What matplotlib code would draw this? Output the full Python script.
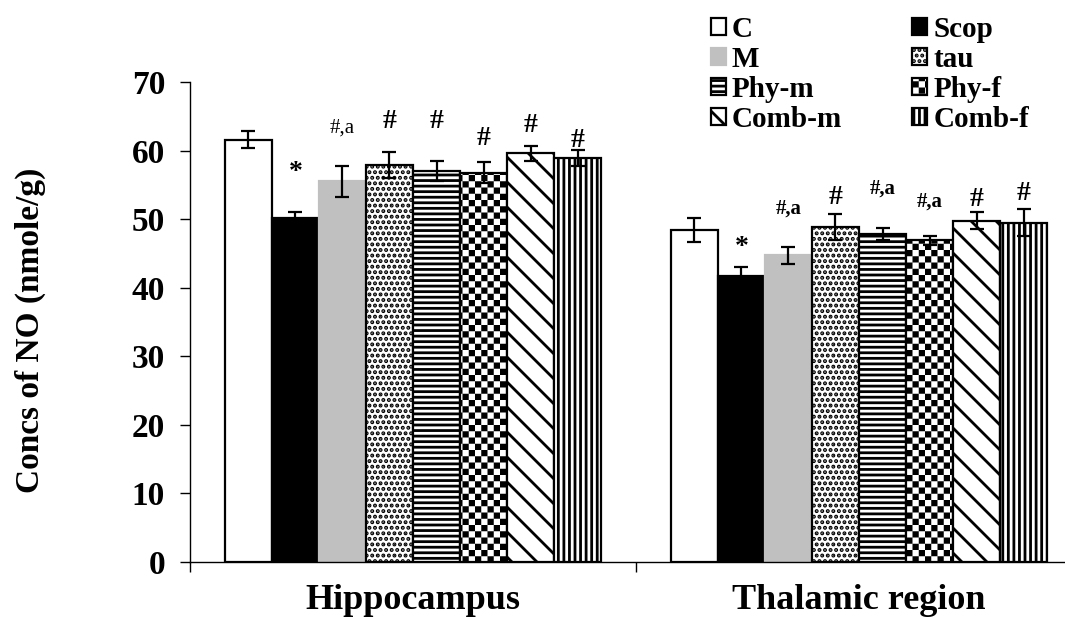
"""
Concentración de NO en hipocampo y región talámica (barras con patrones)
"""

import numpy as np
import matplotlib
matplotlib.use('Agg')
import matplotlib.pyplot as plt
import matplotlib.hatch as mhatch
from matplotlib.path import Path

# ============================================
# DATOS
# ============================================

regions = ['Hippocampus', 'Thalamic region']
groups = ['C', 'Scop', 'M', 'tau', 'Phy-m', 'Phy-f', 'Comb-m', 'Comb-f']

hippo_vals = [61.6, 50.2, 55.5, 57.9, 57.0, 56.8, 59.6, 58.9]
hippo_err = [1.2, 0.9, 2.2, 1.9, 1.5, 1.5, 1.1, 1.2]
thal_vals = [48.4, 41.7, 44.7, 48.9, 47.8, 46.9, 49.8, 49.5]
thal_err = [1.8, 1.3, 1.2, 1.9, 0.9, 0.7, 1.2, 2.0]

# marcas de significancia y su altura
hippo_sig = ['', '*', '#,a', '#', '#', '#', '#', '#']
hippo_sig_y = [0, 56.8, 63.3, 64.2, 64.2, 61.8, 63.7, 61.5]
thal_sig = ['', '*', '#,a', '#', '#,a', '#,a', '#', '#']
thal_sig_y = [0, 45.9, 51.6, 53.1, 54.4, 52.5, 52.8, 53.8]

y_ticks = [0, 10, 20, 30, 40, 50, 60, 70]

# ============================================
# PATRONES PERSONALIZADOS (tablero y diagonal ancha)
# ============================================

HATCH_LW = 2.0
plt.rcParams['hatch.linewidth'] = HATCH_LW


class CheckerHatch(mhatch.HatchPatternBase):
    # tablero de ajedrez, usa el caracter 'O'
    def __init__(self, hatch, density):
        self.n = hatch.count('O') * 16
        self.num_vertices = (self.n * self.n // 2) * 5

    def set_vertices_and_codes(self, vertices, codes):
        s = 1.0 / self.n
        shrink = HATCH_LW / 72.0 / 2
        k = 0
        for i in range(self.n):
            for j in range(self.n):
                if (i + j) % 2:
                    continue
                x0, y0 = j * s + shrink, i * s + shrink
                x1, y1 = (j + 1) * s - shrink, (i + 1) * s - shrink
                vertices[k:k + 5] = [(x0, y0), (x1, y0), (x1, y1), (x0, y1), (x0, y0)]
                codes[k:k + 5] = [Path.MOVETO, Path.LINETO, Path.LINETO,
                                  Path.LINETO, Path.CLOSEPOLY]
                k += 5


class WideDiag(mhatch.SouthEastHatch):
    # diagonal '\' más espaciada, usa el caracter 'o'
    def __init__(self, hatch, density):
        self.num_lines = int(hatch.count('o') * 8)
        self.num_vertices = (self.num_lines + 1) * 2 if self.num_lines else 0


mhatch._hatch_types[mhatch._hatch_types.index(mhatch.LargeCircles)] = CheckerHatch
mhatch._hatch_types[mhatch._hatch_types.index(mhatch.SmallCircles)] = WideDiag

# estilos por grupo: (relleno, borde, patrón)
styles = [
    ('white', 'black', None),
    ('black', 'black', None),
    ('#c0c0c0', '#c0c0c0', None),
    ('white', 'black', '...'),
    ('white', 'black', '---'),
    ('white', 'black', 'O'),
    ('white', 'black', 'o'),
    ('white', 'black', '|||'),
]

# ============================================
# FIGURA
# ============================================

plt.rcParams['font.family'] = ['Liberation Serif', 'DejaVu Serif']
plt.rcParams['font.weight'] = 'bold'

fig = plt.figure(figsize=(10.65, 6.17), dpi=100)
ax = fig.add_axes([190 / 1065, 55 / 617, 892 / 1065, 480 / 617])

x = np.arange(len(regions))
w = 0.1054
vals = [hippo_vals, thal_vals]
errs = [hippo_err, thal_err]

handles = []
for i, g in enumerate(groups):
    fc, ec, hatch = styles[i]
    pos = x + (i - 3.5) * w
    heights = [v[i] for v in vals]
    e = [er[i] for er in errs]
    bars = ax.bar(pos, heights, w, color=fc, edgecolor=ec, hatch=hatch,
                  linewidth=1.6, label=g, zorder=2)
    ax.errorbar(pos, heights, yerr=e, fmt='none', ecolor='black',
                elinewidth=1.6, capsize=5, capthick=1.6, zorder=3)
    handles.append(bars)

# anotaciones de significancia
for k, (sig, sig_y) in enumerate([(hippo_sig, hippo_sig_y), (thal_sig, thal_sig_y)]):
    for i, s in enumerate(sig):
        if not s:
            continue
        pos = x[k] + (i - 3.5) * w
        if s == '#,a':
            weight = 'normal' if k == 0 else 'bold'
            ax.text(pos, sig_y[i], s, ha='center', va='center', fontsize=15,
                    fontweight=weight)
        else:
            ax.text(pos, sig_y[i], s, ha='center', va='center', fontsize=20,
                    fontweight='bold')

# ejes
ax.set_ylim(0, 70)
ax.set_xlim(-0.5, 1.5)
ax.set_yticks(y_ticks)
ax.set_yticklabels([str(t) for t in y_ticks], fontsize=24, fontweight='bold')
ax.set_xticks([-0.5, 0.5, 1.5])
ax.set_xticklabels([])
ax.set_xticks(x, minor=True)
ax.set_xticklabels(regions, minor=True, fontsize=26, fontweight='bold')
ax.tick_params(axis='y', direction='out', length=7, width=1, pad=11)
ax.tick_params(axis='x', which='major', direction='out', length=7, width=1)
ax.tick_params(axis='x', which='minor', length=0, pad=16)
for sp in ['top', 'right']:
    ax.spines[sp].set_visible(False)
for sp in ['left', 'bottom']:
    ax.spines[sp].set_linewidth(1)

fig.text(30 / 1065, 1 - 330 / 617, 'Concs of NO (nmole/g)', rotation=90,
         ha='center', va='center', fontsize=24, fontweight='bold')

# leyenda en orden por filas
order = [0, 2, 4, 6, 1, 3, 5, 7]
leg = fig.legend([handles[i] for i in order], [groups[i] for i in order],
                 loc='upper left', bbox_to_anchor=(711 / 1065, 1 - 16 / 617),
                 ncol=2, frameon=False, fontsize=21, handlelength=0.52,
                 handleheight=0.52, handletextpad=0.2, columnspacing=2.4,
                 labelspacing=0.105, borderpad=0, borderaxespad=0)
for t in leg.get_texts():
    t.set_fontweight('bold')

fig.savefig('out.png', dpi=100)
